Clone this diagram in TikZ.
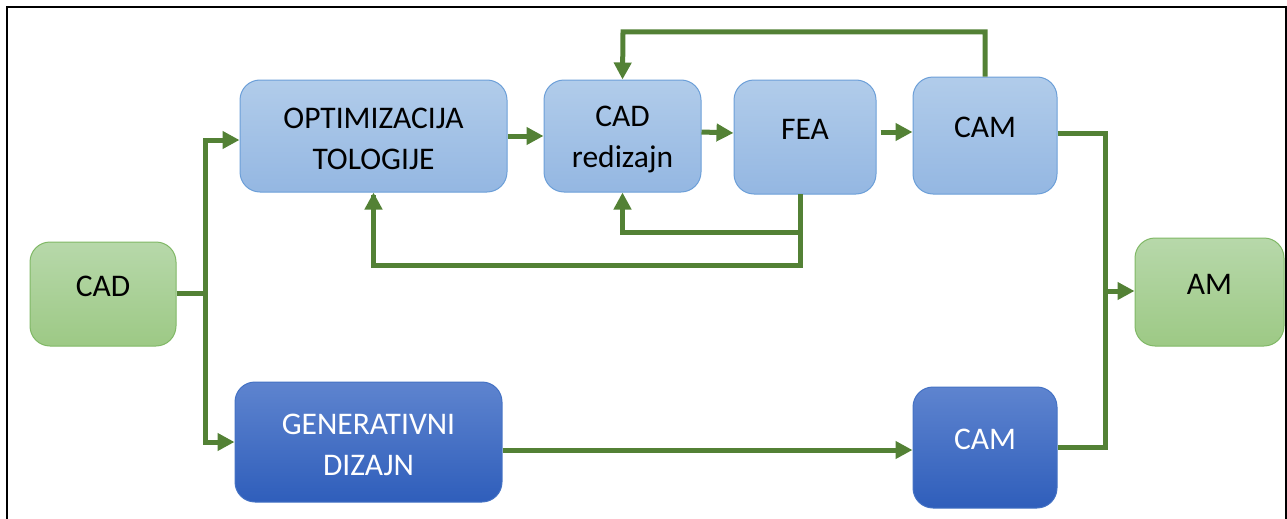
\documentclass[tikz,border=0pt]{standalone}
\usepackage{fontspec}
\setmainfont{Carlito}
\usetikzlibrary{arrows.meta,calc}
\definecolor{lbtop}{HTML}{B1CCEA}
\definecolor{lbbot}{HTML}{94B7E2}
\definecolor{lbdraw}{HTML}{6C9FD8}
\definecolor{gtop}{HTML}{B7D8AA}
\definecolor{gbot}{HTML}{9DC985}
\definecolor{gdraw}{HTML}{80B866}
\definecolor{dbtop}{HTML}{5E84CF}
\definecolor{dbbot}{HTML}{2F5EBB}
\definecolor{dbdraw}{HTML}{4472C4}
\definecolor{conncol}{HTML}{538135}
\tikzset{
  box/.style={rectangle, rounded corners=20pt, line width=1pt, inner sep=0pt},
  lbox/.style={box, top color=lbtop, bottom color=lbbot, draw=lbdraw},
  gbox/.style={box, top color=gtop, bottom color=gbot, draw=gdraw},
  dbox/.style={box, top color=dbtop, bottom color=dbbot, draw=dbdraw},
  txt/.style={align=center, font=\fontsize{31.5}{41}\selectfont, yshift=8pt},
  txtt/.style={align=center, font=\fontsize{31.5}{41}\selectfont, yshift=-3pt},
  conn/.style={draw=conncol, line width=5pt},
  arr/.style={conn, -{Triangle[length=17pt,width=17pt]}}
}
\begin{document}
\begin{tikzpicture}[x=1pt,y=-1pt]
\useasboundingbox (0,0) rectangle (1287,519);
\draw[line width=2.5pt] (7,540) -- (7,7) -- (1286,7) -- (1286,540);

\node[gbox, minimum width=146pt, minimum height=104pt,
  label={[txt]center:CAD}] (cad) at (103,294) {};
\node[lbox, minimum width=267pt, minimum height=112pt,
  label={[txtt]center:OPTIMIZACIJA\\TOLOGIJE}] (opt) at (373.5,136) {};
\node[lbox, minimum width=157pt, minimum height=112pt,
  label={[txtt]center:CAD\\redizajn}] (red) at (622.5,136) {};
\node[lbox, minimum width=142pt, minimum height=114pt,
  label={[txt]center:FEA}] (fea) at (805,137) {};
\node[lbox, minimum width=144pt, minimum height=117pt,
  label={[txt]center:CAM}] (cam1) at (985,135.5) {};
\node[gbox, minimum width=149pt, minimum height=108pt,
  label={[txt]center:AM}] (am) at (1209.5,292) {};
\node[dbox, minimum width=267pt, minimum height=120pt,
  label={[txtt,text=white]center:GENERATIVNI\\DIZAJN}] (gen) at (368.5,442) {};
\node[dbox, minimum width=144pt, minimum height=121pt,
  label={[txt,text=white]center:CAM}] (cam2) at (985,447.5) {};

% CAD split
\coordinate (s1) at (205,293);
\draw[conn] (cad.east |- s1) -- (s1);
\draw[arr] (s1) |- ([yshift=-4pt]opt.west);
\draw[arr] (s1) |- (gen.west);

% top chain
\draw[arr] (opt.east) -- (red.west);
\draw[arr] ([yshift=4pt]red.east) -- ([yshift=4pt]fea.west);
\draw[arr] ([xshift=4pt,yshift=5pt]fea.east) -- ([yshift=5pt]fea.east -| cam1.west);

% CAM feedback to CAD redizajn
\coordinate (tp) at (623,32);
\draw[arr, line join=miter] (cam1.north) |- (tp) -- (red.north);

% FEA feedback
\coordinate (f0) at (800,194);
\coordinate (b1) at (800,232);
\coordinate (b2) at (800,265);
\draw[conn, line join=miter] (f0) -- (b2) -| ([yshift=-2pt]opt.south);
\draw[arr, line join=miter] (b1) -| (red.south);
\draw[arr] (b2 -| opt.south) -- (opt.south);

% to AM
\coordinate (m) at (1105,291);
\draw[conn, line join=miter] ([yshift=2pt]cam1.east) -| (m);
\draw[conn, line join=miter] (cam2.east) -| (m);
\draw[arr] (m) -- (am.west |- m);

% GEN -> CAM
\draw[arr] ([yshift=-8pt]gen.east) coordinate (g) -- (g -| cam2.west);
\end{tikzpicture}
\end{document}
